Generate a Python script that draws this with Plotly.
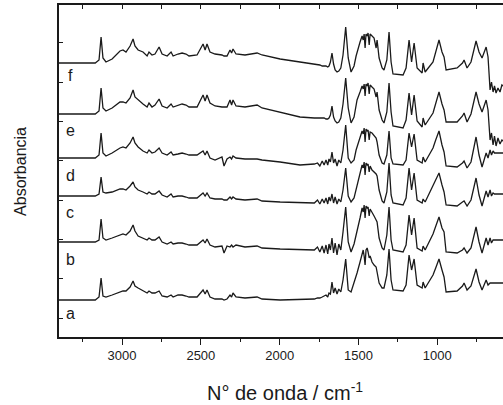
import plotly.graph_objects as go

# Wavenumber grid (cm-1), shared by all spectra
wavenumber = [3400, 3170, 3146, 3133, 3121, 3102, 3063, 3013, 2994, 2975,
              2949, 2930, 2918, 2898, 2867, 2841, 2829, 2810, 2791, 2765,
              2746, 2714, 2689, 2676, 2645, 2619, 2594, 2575, 2524, 2486,
              2473, 2461, 2442, 2410, 2366, 2353, 2334, 2315, 2305, 2296,
              2277, 2220, 2143, 2112, 1997, 1871,
              1780, 1760, 1745, 1730, 1718, 1706, 1695, 1687, 1678, 1668,
              1658, 1648, 1636, 1625, 1612, 1598, 1581, 1565, 1547, 1528,
              1515, 1509, 1490, 1477, 1470, 1464, 1458, 1452, 1445, 1439,
              1432, 1426, 1414, 1401, 1388, 1382, 1369, 1350, 1338, 1320,
              1306, 1293, 1281, 1217, 1198, 1179, 1163, 1147, 1128, 1096,
              1090, 1077, 1027, 1010, 989, 970, 957, 944, 874, 840,
              830, 811, 786, 754, 735, 716, 690, 678, 665, 656,
              646, 637, 627, 615, 602, 590, 583]

# Stacked absorbance (arbitrary units, already offset)
abs_f = [274, 274, 277, 300, 279, 275, 278, 286, 287, 285,
         291, 298, 291, 287, 285, 281, 285, 282, 283, 290,
         283, 281, 285, 281, 283, 284, 283, 281, 282, 293,
         287, 293, 285, 283, 282, 281, 281, 287, 284, 288,
         283, 282, 284, 282, 278, 275,
         273, 272, 272, 271, 271, 271, 270, 271, 275, 284,
         273, 267, 265, 266, 269, 282, 310, 279, 265, 271,
         281, 285, 295, 301, 297, 303, 289, 303, 301, 304,
         292, 303, 301, 299, 289, 297, 279, 269, 267, 277,
         305, 275, 263, 262, 269, 297, 275, 294, 269, 264,
         274, 265, 275, 285, 297, 285, 280, 267, 269, 274,
         277, 269, 275, 296, 285, 279, 290, 280, 247, 255,
         245, 251, 244, 249, 245, 252, 251]

abs_e = [223, 223, 226, 249, 229, 226, 229, 235, 235, 234,
         239, 247, 240, 237, 233, 230, 234, 230, 232, 238,
         231, 229, 233, 230, 232, 233, 232, 230, 230, 242,
         236, 242, 234, 231, 230, 230, 230, 237, 232, 237,
         231, 230, 232, 229, 225, 220,
         219, 219, 219, 219, 219, 218, 218, 219, 222, 231,
         220, 216, 214, 215, 219, 233, 259, 229, 214, 220,
         231, 237, 245, 251, 248, 253, 241, 253, 251, 254,
         243, 252, 250, 248, 240, 245, 227, 217, 214, 225,
         254, 225, 211, 209, 217, 244, 222, 242, 216, 210,
         219, 212, 224, 233, 245, 233, 227, 215, 215, 221,
         224, 215, 223, 245, 233, 225, 237, 227, 197, 204,
         192, 201, 191, 199, 193, 197, 196]

abs_d = [179, 179, 182, 204, 184, 181, 184, 189, 190, 189,
         194, 200, 194, 190, 186, 184, 187, 184, 185, 189,
         184, 182, 185, 182, 183, 184, 183, 182, 182, 186,
         182, 186, 179, 177, 180, 171, 178, 180, 178, 181,
         179, 178, 178, 177, 175, 172,
         173, 174, 171, 176, 172, 177, 172, 178, 175, 185,
         174, 178, 171, 177, 174, 187, 212, 179, 174, 177,
         187, 190, 200, 206, 203, 209, 195, 208, 206, 207,
         197, 205, 204, 201, 199, 195, 182, 174, 173, 182,
         206, 179, 173, 172, 177, 204, 190, 203, 177, 174,
         180, 175, 189, 197, 206, 192, 185, 171, 170, 174,
         176, 169, 175, 200, 182, 170, 184, 179, 187, 182,
         186, 184, 184, 184, 184, 184, 184]

abs_c = [141, 141, 143, 160, 145, 144, 145, 148, 148, 147,
         151, 155, 150, 147, 145, 143, 145, 143, 143, 146,
         142, 140, 143, 140, 141, 141, 140, 139, 139, 144,
         141, 144, 139, 138, 138, 137, 137, 140, 138, 140,
         138, 137, 138, 136, 135, 134,
         134, 137, 133, 138, 134, 139, 133, 140, 136, 143,
         134, 140, 133, 138, 135, 147, 169, 141, 135, 139,
         147, 150, 162, 172, 169, 175, 162, 174, 172, 173,
         165, 171, 167, 165, 163, 161, 147, 136, 134, 145,
         174, 142, 134, 132, 139, 169, 147, 164, 137, 134,
         138, 135, 151, 157, 164, 152, 145, 132, 131, 135,
         136, 131, 137, 159, 142, 131, 146, 140, 147, 141,
         144, 143, 143, 143, 143, 143, 143]

abs_b = [95, 95, 97, 118, 99, 97, 99, 102, 103, 102,
         106, 112, 106, 101, 99, 97, 99, 97, 97, 100,
         95, 93, 95, 93, 94, 94, 93, 92, 92, 97,
         94, 98, 92, 90, 91, 84, 91, 90, 92, 90,
         92, 90, 91, 89, 88, 87,
         87, 90, 85, 91, 84, 92, 83, 93, 87, 99,
         84, 94, 82, 93, 87, 105, 130, 95, 85, 93,
         101, 105, 119, 129, 125, 132, 119, 131, 129, 130,
         121, 128, 125, 121, 117, 115, 99, 89, 87, 102,
         130, 97, 87, 85, 92, 122, 102, 119, 89, 86,
         91, 87, 103, 111, 120, 109, 105, 85, 84, 87,
         89, 84, 89, 110, 95, 84, 99, 92, 99, 94,
         97, 97, 97, 97, 97, 97, 97]

abs_a = [37, 37, 40, 59, 41, 40, 42, 45, 46, 46,
         50, 56, 51, 49, 46, 44, 46, 44, 44, 46,
         41, 40, 42, 40, 42, 42, 41, 40, 40, 47,
         43, 47, 40, 38, 38, 37, 38, 42, 40, 44,
         40, 39, 40, 38, 37, 38,
         38, 39, 39, 40, 41, 42, 40, 44, 43, 55,
         44, 49, 43, 48, 45, 57, 78, 47, 45, 54,
         62, 64, 75, 84, 87, 81, 72, 87, 89, 85,
         79, 81, 75, 72, 70, 65, 54, 49, 49, 62,
         88, 57, 47, 46, 52, 82, 67, 78, 52, 49,
         55, 49, 62, 69, 78, 67, 60, 45, 46, 51,
         54, 47, 51, 68, 55, 47, 57, 52, 54, 54,
         54, 54, 54, 54, 54, 54, 54]

series_names = ["a", "b", "c", "d", "e", "f"]
series_values = [abs_a, abs_b, abs_c, abs_d, abs_e, abs_f]
label_y = [24, 78, 125, 162, 207, 262]
label_x = 3330

for v in series_values:
    assert len(v) == len(wavenumber), len(v)

FONT = "Arial, Liberation Sans, sans-serif"
INK = "#1a1a1a"
fig = go.Figure()
for name, vals in zip(series_names, series_values):
    fig.add_trace(go.Scatter(x=wavenumber, y=vals, mode="lines", name=name,
                             line=dict(color=INK, width=1.3),
                             showlegend=False, hoverinfo="skip"))
# empty trace for the top tick axis
fig.add_trace(go.Scatter(x=[None], y=[None], xaxis="x2", yaxis="y",
                         mode="lines", showlegend=False, hoverinfo="skip"))

for name, ly in zip(series_names, label_y):
    fig.add_annotation(x=label_x, y=ly, text=name, showarrow=False,
                       xanchor="center", yanchor="middle",
                       font=dict(family=FONT, size=16, color=INK))

fig.add_annotation(xref="paper", yref="paper", x=0.51, y=-0.165,
                   text="N° de onda / cm<sup>-1</sup>", showarrow=False,
                   xanchor="center", yanchor="middle",
                   font=dict(family=FONT, size=20, color=INK))
fig.add_annotation(xref="paper", yref="paper", x=-0.088, y=0.5,
                   text="Absorbancia", showarrow=False, textangle=-90,
                   xanchor="center", yanchor="middle",
                   font=dict(family=FONT, size=16, color=INK))

fig.update_layout(
    width=503, height=405,
    margin=dict(l=59, r=0, t=5, b=68, autoexpand=False),
    plot_bgcolor="white", paper_bgcolor="white",
    font=dict(family=FONT, color=INK),
    xaxis=dict(range=[3400, 583], showgrid=False, zeroline=False,
               showline=True, linecolor=INK, linewidth=1.5, mirror=True,
               ticks="outside", ticklen=6, tickwidth=1, tickcolor=INK,
               tick0=1000, dtick=500, tickfont=dict(size=13, family=FONT),
               minor=dict(ticks="outside", ticklen=3, dtick=250, tick0=1000,
                          tickcolor=INK, showgrid=False)),
    xaxis2=dict(range=[3400, 583], overlaying="x", side="top", anchor="y",
                showgrid=False, zeroline=False, showline=False,
                ticks="inside", ticklen=4, tickcolor=INK,
                tick0=1000, dtick=250, showticklabels=False),
    yaxis=dict(range=[0, 332], showgrid=False, zeroline=False,
               showline=True, linecolor=INK, linewidth=1.5,
               ticks="inside", ticklen=4, tickcolor=INK,
               tick0=19, dtick=39.3, showticklabels=False),
)

fig.write_html("out.html",
               config={"displayModeBar": False},
               post_script="document.body.style.margin='0';"
                           "document.body.style.overflow='hidden';")
